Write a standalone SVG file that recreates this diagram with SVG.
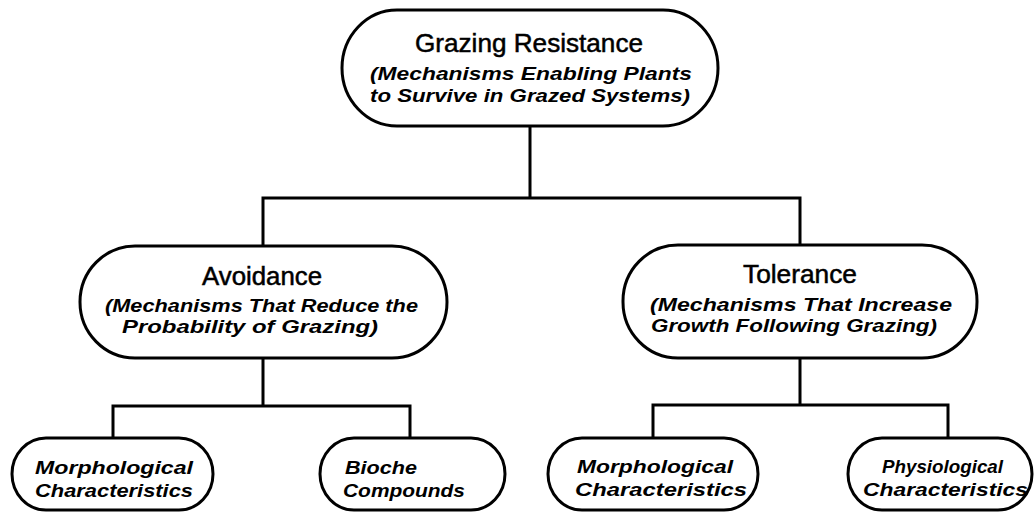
<svg xmlns="http://www.w3.org/2000/svg" width="1034" height="512" viewBox="0 0 1034 512">
<style>
.box{fill:#fff;stroke:#000;stroke-width:3}
.ln{fill:none;stroke:#000;stroke-width:3;stroke-linecap:square}
.t{font-family:"Liberation Sans",Arial,sans-serif;font-size:25px;fill:#000;stroke:#000;stroke-width:0.5}
.s{font-family:"Liberation Sans",Arial,sans-serif;font-size:19px;font-weight:bold;font-style:italic;fill:#000}
</style>
<rect width="1034" height="512" fill="#fff"/>
<g id="connectors">
<path class="ln" d="M530,126 V198 M263,198 H800 M263,198 V246 M800,198 V245"/>
<path class="ln" d="M263,358 V406 M113,406 H410 M113,406 V438 M410,406 V438"/>
<path class="ln" d="M800,358 V405 M653,405 H948 M653,405 V438 M948,405 V438"/>
</g>
<g id="root">
<rect class="box" x="342" y="10" width="376" height="116" rx="55" ry="58"/>
<text class="t" x="415" y="52" textLength="228" lengthAdjust="spacingAndGlyphs">Grazing Resistance</text>
<text class="s" x="370" y="80" textLength="322" lengthAdjust="spacingAndGlyphs">(Mechanisms Enabling  Plants</text>
<text class="s" x="370" y="102" textLength="320" lengthAdjust="spacingAndGlyphs">to Survive in Grazed Systems)</text>
</g>
<g id="avoidance">
<rect class="box" x="80" y="246" width="367" height="112" rx="55" ry="56"/>
<text class="t" x="202" y="285" textLength="120" lengthAdjust="spacingAndGlyphs">Avoidance</text>
<text class="s" x="105" y="312" textLength="313" lengthAdjust="spacingAndGlyphs">(Mechanisms That Reduce the</text>
<text class="s" x="122" y="333" textLength="256" lengthAdjust="spacingAndGlyphs">Probability of Grazing)</text>
</g>
<g id="tolerance">
<rect class="box" x="623" y="245" width="354" height="113" rx="55" ry="56"/>
<text class="t" x="743" y="283" textLength="114" lengthAdjust="spacingAndGlyphs">Tolerance</text>
<text class="s" x="650" y="311" textLength="302" lengthAdjust="spacingAndGlyphs">(Mechanisms That Increase</text>
<text class="s" x="651" y="332" textLength="286" lengthAdjust="spacingAndGlyphs">Growth Following  Grazing)</text>
</g>
<g id="avoid-morph">
<rect class="box" x="12" y="438" width="201" height="72" rx="34" ry="36"/>
<text class="s" x="35" y="474" textLength="158" lengthAdjust="spacingAndGlyphs">Morphological</text>
<text class="s" x="35" y="497" textLength="158" lengthAdjust="spacingAndGlyphs">Characteristics</text>
</g>
<g id="bioche">
<rect class="box" x="320" y="438" width="185" height="72" rx="34" ry="36"/>
<text class="s" x="345" y="474" textLength="72" lengthAdjust="spacingAndGlyphs">Bioche</text>
<text class="s" x="343" y="497" textLength="122" lengthAdjust="spacingAndGlyphs">Compounds</text>
</g>
<g id="toler-morph">
<rect class="box" x="548" y="438" width="210" height="72" rx="34" ry="36"/>
<text class="s" x="577" y="473" textLength="156" lengthAdjust="spacingAndGlyphs">Morphological</text>
<text class="s" x="575" y="496" textLength="172" lengthAdjust="spacingAndGlyphs">Characteristics</text>
</g>
<g id="physio">
<rect class="box" x="848" y="438" width="184" height="72" rx="34" ry="36"/>
<text class="s" x="882" y="473" textLength="121" lengthAdjust="spacingAndGlyphs">Physiological</text>
<text class="s" x="863" y="496" textLength="165" lengthAdjust="spacingAndGlyphs">Characteristics</text>
</g>
</svg>
